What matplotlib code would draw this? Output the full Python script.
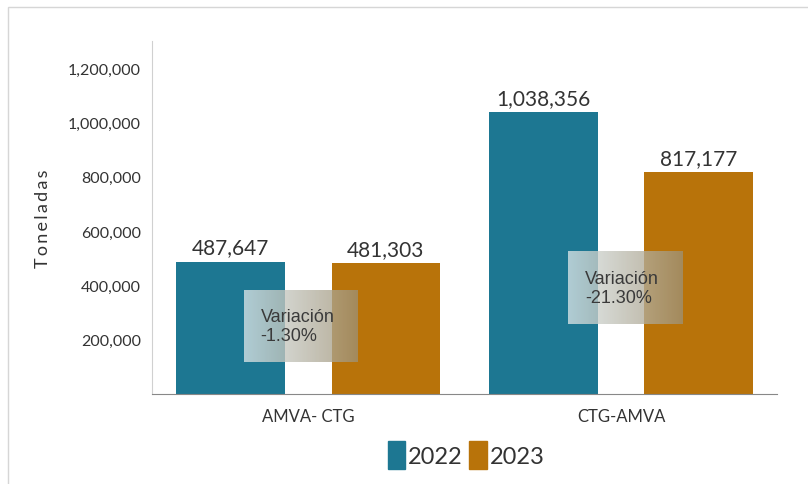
import numpy as np
import matplotlib
matplotlib.use("Agg")
import matplotlib.pyplot as plt
from matplotlib.patches import Rectangle, Patch

categories = ["AMVA- CTG", "CTG-AMVA"]
years = ["2022", "2023"]
values_2022 = [487647, 1038356]
values_2023 = [481303, 817177]
variation_labels = ["Variación\n-1.30%", "Variación\n-21.30%"]
yticks = [200000, 400000, 600000, 800000, 1000000, 1200000]

teal = "#1d7792"
orange = "#b8730a"

plt.rcParams['font.family'] = ['Lato', 'DejaVu Sans']

fig = plt.figure(figsize=(8.08, 4.85), dpi=100)
ax = fig.add_axes([0.188, 0.186, 0.774, 0.727])

x = np.arange(len(categories))
w = 0.347
off = 0.248
b1 = ax.bar(x - off, values_2022, w, color=teal, zorder=2)
b2 = ax.bar(x + off, values_2023, w, color=orange, zorder=2)

for bars in (b1, b2):
    for r in bars:
        v = r.get_height()
        ax.text(r.get_x() + r.get_width() / 2, v + 15000, f"{int(v):,}",
                ha="center", va="bottom", fontsize=15, color="#333333")

# variation boxes with gradient overlay
boxes = [(-0.207, 0.156, 118000, 380000), (0.831, 1.197, 258000, 524000)]
grad = np.linspace(0, 1, 256)
c0 = np.array([0.86, 0.90, 0.91])
c1 = np.array([0.62, 0.57, 0.46])
img = np.zeros((1, 256, 4))
img[0, :, :3] = c0[None, :] * (1 - grad[:, None]) + c1[None, :] * grad[:, None]
img[0, :, 3] = 0.78
for (x0, x1, y0, y1), lab in zip(boxes, variation_labels):
    ax.imshow(img, extent=[x0, x1, y0, y1], aspect="auto", zorder=3,
              interpolation="bilinear")
    ax.text(x0 + 0.055, (y0 + y1) / 2, lab, ha="left", va="center",
            fontsize=13, color="#3a3a3a",
            family=['Liberation Sans Narrow', 'Liberation Sans', 'DejaVu Sans'],
            linespacing=1.15, zorder=4)

ax.set_xlim(-0.5, 1.5)
ax.set_ylim(0, 1300000)
ax.set_xticks(x)
ax.set_xticklabels(categories, fontsize=12, color="#333333")
ax.set_yticks(yticks)
ax.set_yticklabels([f"{t:,}" for t in yticks], fontsize=11.5, color="#333333")
ax.tick_params(axis="both", length=0, pad=8)
ax.tick_params(axis="x", pad=10)
for s in ("top", "right"):
    ax.spines[s].set_visible(False)
ax.spines["left"].set_color("#d0d0d0")
ax.spines["bottom"].set_color("#888888")
ax.set_ylabel("\u2009".join("Toneladas"), fontsize=13, color="#333333", labelpad=12)

handles = [Patch(color=teal), Patch(color=orange)]
fig.legend(handles, years, loc="center", bbox_to_anchor=(466 / 808, 1 - 456 / 485),
           ncol=2, frameon=False, fontsize=17, handlelength=0.75, handleheight=1.4,
           handletextpad=0.1, columnspacing=0.3, labelcolor="#333333")

fig.patches.append(Rectangle((8 / 808, -0.01), 1.0, 1 - 8 / 485 + 0.01,
                             transform=fig.transFigure, fill=False,
                             edgecolor="#d6d6d6", linewidth=1))

fig.savefig("out.png", dpi=100)
